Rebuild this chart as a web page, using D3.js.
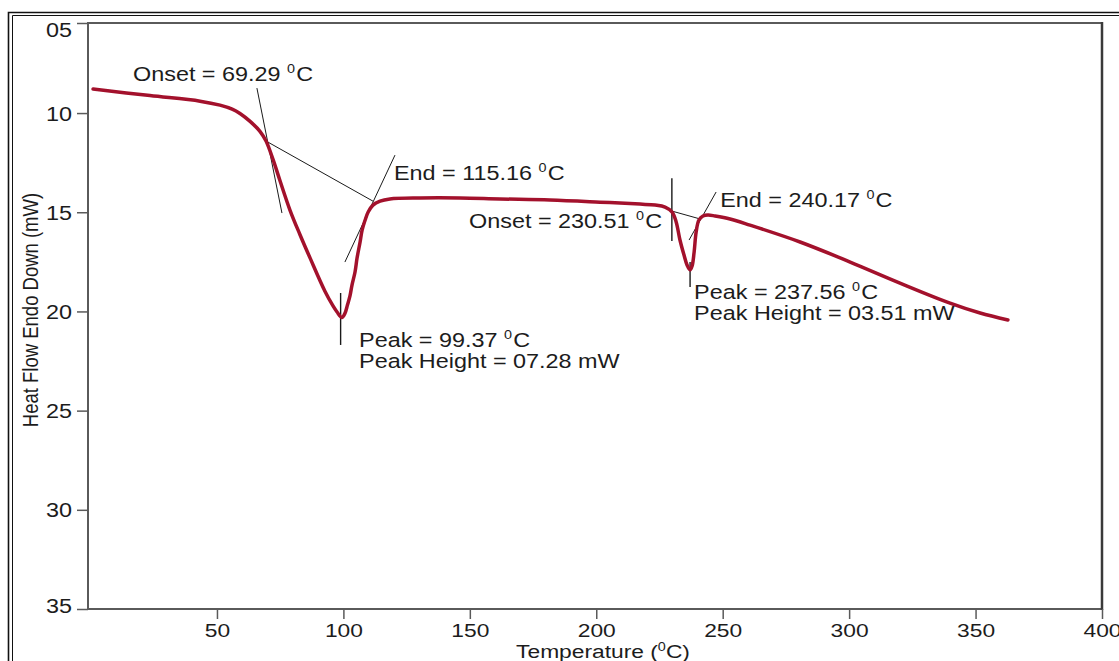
<!DOCTYPE html>
<html>
<head>
<meta charset="utf-8">
<script src="https://cdn.jsdelivr.net/npm/d3@7"></script>
<style>
  body { margin: 0; background: #fff; }
  text { font-family: "Liberation Sans", Arial, sans-serif; fill: #1c1c1c; }
</style>
</head>
<body>
<svg id="chart" width="1119" height="661"></svg>
<script>
(() => {
// DSC curve
const temperature = [
  1.0, 23.5, 43.3, 51.2, 56.0, 59.1, 63.1, 67.0, 69.4, 72.2, 74.9, 78.9, 82.8, 86.8,
  92.7, 95.9, 97.5, 99.4, 100.6, 101.6, 102.6, 103.4, 104.6, 105.4, 106.6, 107.4,
  108.6, 109.8, 111.7, 114.5, 118.4, 130.3, 146.1, 161.9, 181.7, 201.5, 217.3,
  223.3, 227.2, 230.0, 231.6, 233.1, 234.7, 235.9, 237.1, 237.9, 238.7, 239.5,
  240.6, 242.2, 244.2, 247.0, 252.9, 260.8, 280.6, 300.4, 320.1, 339.9, 351.8, 362.8
];
const heatFlow = [
  8.79, 9.12, 9.40, 9.60, 9.80, 10.02, 10.42, 10.92, 11.41, 12.35, 13.40, 14.90, 16.12, 17.30,
  18.98, 19.72, 20.03, 20.30, 20.10, 19.68, 19.22, 18.67, 18.01, 17.31, 16.50, 15.90,
  15.39, 14.99, 14.64, 14.44, 14.33, 14.28, 14.28, 14.33, 14.38, 14.49, 14.59,
  14.64, 14.74, 14.99, 15.49, 16.40, 17.16, 17.66, 17.91, 17.71, 17.01, 16.00,
  15.39, 15.19, 15.14, 15.19, 15.34, 15.65, 16.50, 17.51, 18.57, 19.58, 20.08, 20.43
];

const xTicks = [50, 100, 150, 200, 250, 300, 350, 400];
const yTicks = [5.46, 10, 15, 20, 25, 30, 35];
const yTickLabels = ["05", "10", "15", "20", "25", "30", "35"];

// tangent / baseline / peak construction lines, [T, heat flow] pairs
const constructionLines = [
  [[65.8, 8.74], [75.7, 15.04]],
  [[69.4, 11.41], [111.7, 14.44]],
  [[120.4, 12.12], [100.6, 17.51]],
  [[98.9, 19.07], [98.9, 21.69]],
  [[229.9, 13.28], [229.9, 16.45]],
  [[229.9, 14.94], [241.1, 15.34]],
  [[247.4, 13.98], [236.7, 16.40]],
  [[237.1, 17.51], [237.1, 18.77]]
];

const annotations = [
  { T: 16.8, v: 8.39, text: "Onset = 69.29 ", sup: "0", tail: "C" },
  { T: 120.0, v: 13.38, text: "End = 115.16 ", sup: "0", tail: "C" },
  { T: 106.2, v: 21.79, text: "Peak = 99.37 ", sup: "0", tail: "C" },
  { T: 106.2, v: 22.85, text: "Peak Height = 07.28 mW" },
  { T: 149.7, v: 15.80, text: "Onset = 230.51 ", sup: "0", tail: "C" },
  { T: 249.0, v: 14.74, text: "End = 240.17 ", sup: "0", tail: "C" },
  { T: 238.7, v: 19.37, text: "Peak = 237.56 ", sup: "0", tail: "C" },
  { T: 238.7, v: 20.43, text: "Peak Height = 03.51 mW" }
];

const stretch = 1.2; // the picture is a little wide

const svg = d3.select("#chart");

const x = d3.scaleLinear().domain([-1, 400]).range([88, 1102]);
const y = d3.scaleLinear().domain([5.46, 35]).range([23, 609]);

// outer double frame
svg.append("path")
  .attr("d", "M8.5,661 V12.5 H1119")
  .attr("fill", "none").attr("stroke", "#111").attr("stroke-width", 1.6);
svg.append("path")
  .attr("d", "M12.5,661 V15.5 H1119")
  .attr("fill", "none").attr("stroke", "#111").attr("stroke-width", 1);

// plot box
svg.append("rect")
  .attr("x", 88).attr("y", 23)
  .attr("width", 1102 - 88).attr("height", 609 - 23)
  .attr("fill", "none").attr("stroke", "#5a5a5a").attr("stroke-width", 2);
svg.append("line")
  .attr("x1", 1102).attr("x2", 1102).attr("y1", 22).attr("y2", 610)
  .attr("stroke", "#3a3a3a").attr("stroke-width", 2.5);

// y axis
const yAxis = svg.append("g")
  .attr("transform", "translate(88,0)")
  .call(d3.axisLeft(y).tickValues(yTicks).tickSize(11).tickPadding(5)
    .tickFormat((d, i) => yTickLabels[i]));
yAxis.select(".domain").remove();
yAxis.selectAll(".tick line").attr("stroke", "#5a5a5a").attr("stroke-width", 1.5);
yAxis.selectAll(".tick text")
  .attr("x", null).attr("dy", null)
  .attr("font-size", 19.5)
  .attr("font-family", null)
  .attr("fill", null)
  .attr("transform", (d, i) => {
    const shift = i === 0 ? 6 : (i === yTicks.length - 1 ? -4 : 0);
    return `translate(-16,${7 + shift}) scale(${stretch},1)`;
  });

// x axis
const xAxis = svg.append("g")
  .attr("transform", "translate(0,609)")
  .call(d3.axisBottom(x).tickValues(xTicks).tickSize(10).tickPadding(4));
xAxis.select(".domain").remove();
xAxis.selectAll(".tick line").attr("stroke", "#5a5a5a").attr("stroke-width", 1.5);
xAxis.selectAll(".tick text")
  .attr("y", null).attr("dy", null)
  .attr("font-size", 19)
  .attr("font-family", null)
  .attr("fill", null)
  .attr("transform", `translate(0,28) scale(${stretch},1)`);

// axis titles
svg.append("text")
  .attr("transform", `translate(38,310) scale(${stretch},1) rotate(-90)`)
  .attr("text-anchor", "middle")
  .attr("font-size", 18.5)
  .text("Heat Flow Endo Down (mW)");

const xTitle = svg.append("text")
  .attr("transform", `translate(603,658) scale(${stretch},1)`)
  .attr("text-anchor", "middle")
  .attr("font-size", 19);
xTitle.append("tspan").text("Temperature (");
xTitle.append("tspan").attr("font-size", 12).attr("dy", -7).text("0");
xTitle.append("tspan").attr("dy", 7).text("C)");

// construction lines
svg.append("g")
  .selectAll("line")
  .data(constructionLines)
  .join("line")
  .attr("x1", d => x(d[0][0])).attr("y1", d => y(d[0][1]))
  .attr("x2", d => x(d[1][0])).attr("y2", d => y(d[1][1]))
  .attr("stroke", "#1a1a1a")
  .attr("stroke-width", d => (d[0][0] === d[1][0] ? 1.4 : 1));

// curve
const points = temperature.map((t, i) => [t, heatFlow[i]]);
svg.append("path")
  .datum(points)
  .attr("fill", "none")
  .attr("stroke", "#a3112c")
  .attr("stroke-width", 3.5)
  .attr("stroke-linejoin", "round")
  .attr("stroke-linecap", "round")
  .attr("d", d3.line()
    .x(d => x(d[0]))
    .y(d => y(d[1]))
    .curve(d3.curveCatmullRom.alpha(0.5)));

// annotation text
annotations.forEach(a => {
  const t = svg.append("text")
    .attr("transform", `translate(${x(a.T)},${y(a.v)}) scale(${stretch},1)`)
    .attr("font-size", 19.5);
  t.append("tspan").text(a.text);
  if (a.sup) {
    t.append("tspan").attr("font-size", 12).attr("dy", -8).text(a.sup);
    t.append("tspan").attr("dx", 1).attr("dy", 8).text(a.tail);
  }
});
})();
</script>
</body>
</html>
